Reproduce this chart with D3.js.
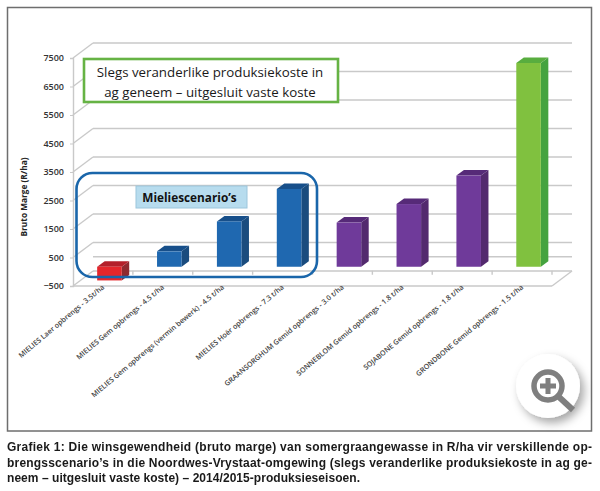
<!DOCTYPE html>
<html>
<head>
<meta charset="utf-8">
<script src="https://cdn.jsdelivr.net/npm/d3@7"></script>
<style>
html, body { margin: 0; padding: 0; background: #fff; }
svg { display: block; filter: blur(0.3px); }
text { font-family: "Open Sans", sans-serif; }
.caption { font-family: "Liberation Sans", sans-serif; font-weight: bold; font-size: 12px; fill: #1a1a1a; }
</style>
</head>
<body>
<div id="chart"></div>
<script>
const categories = [
    "MIELIES Laer opbrengs - 3.5t/ha",
    "MIELIES Gem opbrengs - 4.5 t/ha",
    "MIELIES Gem opbrengs (vermin bewerk) - 4.5 t/ha",
    "MIELIES Hoër opbrengs - 7.3 t/ha",
    "GRAANSORGHUM Gemid opbrengs - 3.0 t/ha",
    "SONNEBLOM Gemid opbrengs - 1.8 t/ha",
    "SOJABONE Gemid opbrengs - 1.8 t/ha",
    "GRONDBONE Gemid opbrengs - 1.5 t/ha"
]
const values = [-480, 540, 1590, 2730, 1550, 2200, 3200, 7150]
const frontColors = ["#e5262b", "#1f68b0", "#1f68b0", "#1f68b0", "#6f3a9a", "#6f3a9a", "#6f3a9a", "#80c13f"]
const topColors = ["#b4202a", "#174f8a", "#174f8a", "#174f8a", "#562a78", "#562a78", "#562a78", "#58ad3f"]
const sideColors = ["#8f2a30", "#1a4c7e", "#1a4c7e", "#1a4c7e", "#532a6e", "#532a6e", "#532a6e", "#45a33f"]
const yTicks = [-500, 500, 1500, 2500, 3500, 4500, 5500, 6500, 7500]
const yTitle = "Bruto Marge (R/ha)"
const noteLines = ["Slegs veranderlike produksiekoste in", "ag geneem – uitgesluit vaste koste"]
const groupLabel = "Mieliescenario’s"
const captionLines = [
    "Grafiek 1: Die winsgewendheid (bruto marge) van somergraangewasse in R/ha vir verskillende op-",
    "brengsscenario’s in die Noordwes-Vrystaat-omgewing (slegs veranderlike produksiekoste in ag ge-",
    "neem – uitgesluit vaste koste) – 2014/2015-produksieseisoen."
]

const width = 600
const height = 491
const wall = {dx: 20, dy: 15}      // depth of the 3d floor
const bar = {dx: 7.5, dy: 5.5, ox: 6.5, oy: 5}

const svg = d3.select("#chart")
    .append("svg")
    .attr("width", width)
    .attr("height", height)
    .attr("viewBox", [0, 0, width, height])

const defs = svg.append("defs")
const shadow = defs.append("filter").attr("id", "shadow")
    .attr("x", "-30%").attr("y", "-30%").attr("width", "170%").attr("height", "170%")
shadow.append("feDropShadow")
    .attr("dx", 4).attr("dy", 5).attr("stdDeviation", 5)
    .attr("flood-color", "#000").attr("flood-opacity", 0.35)

const x = d3.scaleBand()
    .domain(categories)
    .range([73, 552])
    .paddingInner(0.59)
    .paddingOuter(0.295)

const y = d3.scaleLinear()
    .domain([-500, 7500])
    .range([286, 58])

// frame
svg.append("rect")
    .attr("x", 7.5).attr("y", 7.5)
    .attr("width", 584).attr("height", 423.5)
    .attr("fill", "#fff")
    .attr("stroke", "#6e6e6e")
    .attr("stroke-width", 1.5)

// walls and floor
const grid = svg.append("g")
    .attr("stroke", "#c9c9c9")
    .attr("stroke-width", 1.4)
    .attr("fill", "none")

grid.selectAll(".back")
    .data(yTicks)
    .join("line")
    .attr("class", "back")
    .attr("x1", x.range()[0] + wall.dx)
    .attr("x2", x.range()[1] + wall.dx)
    .attr("y1", d => y(d) - wall.dy)
    .attr("y2", d => y(d) - wall.dy)

grid.selectAll(".side")
    .data(yTicks)
    .join("line")
    .attr("class", "side")
    .attr("x1", x.range()[0])
    .attr("x2", x.range()[0] + wall.dx)
    .attr("y1", d => y(d))
    .attr("y2", d => y(d) - wall.dy)

// zero plane, back edge and front edge
grid.append("line")
    .attr("x1", x.range()[0] + wall.dx).attr("x2", x.range()[1] + wall.dx)
    .attr("y1", y(0) - wall.dy).attr("y2", y(0) - wall.dy)
grid.append("line")
    .attr("x1", x.range()[0]).attr("x2", x.range()[1])
    .attr("y1", y(-500)).attr("y2", y(-500))
grid.append("line")
    .attr("x1", x.range()[1]).attr("x2", x.range()[1] + wall.dx)
    .attr("y1", y(-500)).attr("y2", y(-500) - wall.dy)
grid.selectAll(".tick-mark")
    .data(categories)
    .join("line")
    .attr("class", "tick-mark")
    .attr("x1", (d, i) => x.range()[0] + (i + 1) * x.step())
    .attr("x2", (d, i) => x.range()[0] + (i + 1) * x.step())
    .attr("y1", y(0) - 1)
    .attr("y2", y(0) + 3)

// y axis
svg.append("g")
    .attr("transform", `translate(${x.range()[0]},0)`)
    .call(d3.axisLeft(y).tickValues(yTicks).tickFormat(d3.format("d")).tickSize(3).tickPadding(6))
    .call(g => g.select(".domain").attr("stroke", "#c9c9c9").attr("stroke-width", 1.4))
    .call(g => g.selectAll(".tick line").attr("stroke", "#c9c9c9"))
    .call(g => g.selectAll(".tick text")
        .attr("fill", "#333")
        .style("font-family", "'Open Sans', sans-serif")
        .style("font-size", "9px")
        .style("font-weight", 600))

svg.append("text")
    .attr("transform", "translate(27,197) rotate(-90)")
    .attr("text-anchor", "middle")
    .attr("fill", "#222")
    .style("font-size", "8.3px")
    .style("font-weight", 700)
    .text(yTitle)

// bars
const bars = svg.append("g")
    .selectAll("g")
    .data(categories)
    .join("g")
    .attr("transform", d => `translate(${x(d) + bar.ox},${-bar.oy})`)

const w = x.bandwidth()
const top_y = v => y(Math.max(v, 0))
const bottom_y = v => y(Math.min(v, 0))

bars.append("path")
    .attr("fill", (d, i) => sideColors[i])
    .attr("d", (d, i) => {
        const t = top_y(values[i]), b = bottom_y(values[i])
        return `M${w},${t}L${w + bar.dx},${t - bar.dy}L${w + bar.dx},${b - bar.dy}L${w},${b}Z`
    })
bars.append("path")
    .attr("fill", (d, i) => topColors[i])
    .attr("d", (d, i) => {
        const t = top_y(values[i])
        return `M0,${t}L${bar.dx},${t - bar.dy}L${w + bar.dx},${t - bar.dy}L${w},${t}Z`
    })
bars.append("rect")
    .attr("fill", (d, i) => frontColors[i])
    .attr("x", 0)
    .attr("width", w)
    .attr("y", (d, i) => top_y(values[i]))
    .attr("height", (d, i) => bottom_y(values[i]) - top_y(values[i]))

// category labels
svg.append("g")
    .selectAll("text")
    .data(categories)
    .join("text")
    .attr("transform", d => `translate(${x(d) + x.bandwidth() / 2 + 2},288) rotate(-40)`)
    .attr("text-anchor", "end")
    .attr("fill", "#444")
    .style("font-size", "7.2px")
    .style("font-weight", 600)
    .text(d => d)

// note boxes
svg.append("rect")
    .attr("x", 84).attr("y", 59)
    .attr("width", 254).attr("height", 43)
    .attr("fill", "#fff")
    .attr("stroke", "#66b344")
    .attr("stroke-width", 2.6)

svg.append("g")
    .selectAll("text")
    .data(noteLines)
    .join("text")
    .attr("x", 210)
    .attr("y", (d, i) => 77 + i * 19.5)
    .attr("text-anchor", "middle")
    .attr("fill", "#1a1a1a")
    .style("font-size", "13.3px")
    .text(d => d)

svg.append("rect")
    .attr("x", 76.5).attr("y", 173)
    .attr("width", 240.5).attr("height", 104)
    .attr("rx", 16)
    .attr("fill", "none")
    .attr("stroke", "#1a66aa")
    .attr("stroke-width", 2.6)

svg.append("rect")
    .attr("x", 136).attr("y", 186)
    .attr("width", 111).attr("height", 22)
    .attr("fill", "#b7dcee")
    .attr("stroke", "#9cc6dc")

svg.append("text")
    .attr("x", 189.5).attr("y", 202)
    .attr("text-anchor", "middle")
    .attr("fill", "#111")
    .style("font-size", "11.8px")
    .style("font-weight", 700)
    .text(groupLabel)

// magnifier badge
const badge = svg.append("g").attr("transform", "translate(548,386)")
badge.append("circle")
    .attr("r", 32)
    .attr("fill", "#fff")
    .attr("filter", "url(#shadow)")
badge.append("circle")
    .attr("r", 14)
    .attr("fill", "none")
    .attr("stroke", "#7f7f7f")
    .attr("stroke-width", 5.5)
badge.append("line")
    .attr("x1", 11).attr("y1", 11).attr("x2", 25).attr("y2", 24)
    .attr("stroke", "#7f7f7f")
    .attr("stroke-width", 6)
badge.append("path")
    .attr("d", "M-8,0H8M0,-8V8")
    .attr("stroke", "#7f7f7f")
    .attr("stroke-width", 5)

// caption
svg.append("g")
    .selectAll("text")
    .data(captionLines)
    .join("text")
    .attr("class", "caption")
    .attr("x", 7)
    .attr("y", (d, i) => 451 + i * 15.7)
    .attr("textLength", (d, i) => i < 2 ? 585 : 353)
    .attr("lengthAdjust", "spacing")
    .text(d => d)
</script>
</body>
</html>
